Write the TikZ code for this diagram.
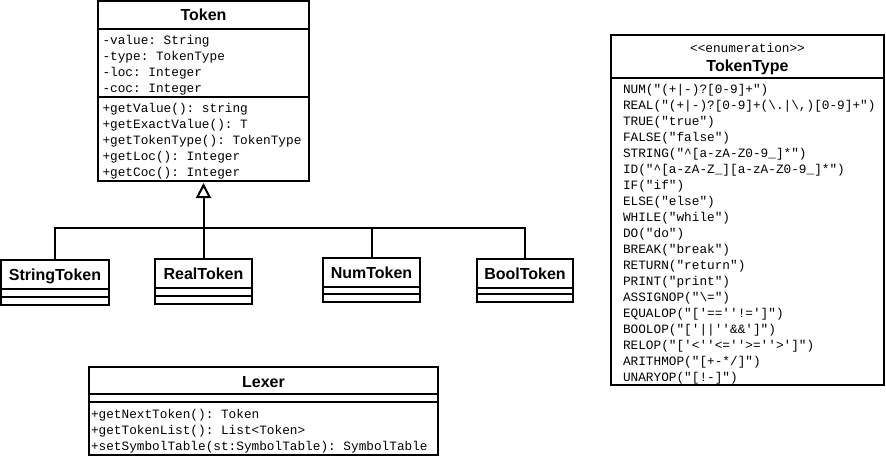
\documentclass[tikz,border=0pt]{standalone}
\usepackage{fontspec}
\setsansfont{Liberation Sans}
\setmonofont{Liberation Mono}
\usetikzlibrary{arrows.meta}

\begin{document}
\begin{tikzpicture}[x=1pt, y=-1pt, line width=2pt,
		classbox/.style={draw, anchor=north west, inner sep=0pt, outer sep=0pt},
		classname/.style={anchor=base, inner sep=0pt, font=\sffamily\bfseries\fontsize{16}{19}\selectfont},
		stereotype/.style={anchor=base, inner sep=0pt, font=\ttfamily\fontsize{12.75}{16}\selectfont},
		member/.style={anchor=base west, inner sep=0pt, font=\ttfamily\fontsize{12.75}{16}\selectfont},
		generalize/.style={-{Triangle[open, length=15pt, width=15pt]}, shorten >=2pt}]
				\useasboundingbox (0,0) rectangle (886,458);
				% Token
				\node[classbox, minimum width=211, minimum height=180] (token) at (98,1) {};
				\node[classname] (tokenname) at (203.5,20.5) {Token};
				\draw (98,29) -- (309,29);
				\draw (98,97) -- (309,97);
				\foreach \m [count=\i] in {{-value: String},{-type: TokenType},{-loc: Integer},{-coc: Integer}}
					\node[member] (tokenattr\i) at (101.5,28.5+16*\i) {\m};
				\foreach \m [count=\i] in {{+getValue(): string},{+getExactValue(): T},{+getTokenType(): TokenType},{+getLoc(): Integer},{+getCoc(): Integer}}
					\node[member] (tokenop\i) at (101.5,96.5+16*\i) {\m};
				
				% subclasses
				\foreach \nm/\lbl/\xa/\xb/\ya/\yb in {stringtok/StringToken/1/109/260/305, realtok/RealToken/155/252/259/304, numtok/NumToken/323/420/258/302, booltok/BoolToken/477/573/259/302}{
					\node[classbox, minimum width=\xb-\xa, minimum height=\yb-\ya] (\nm) at (\xa,\ya) {};
					\node[classname] (\nm name) at ({(\xa+\xb)/2},\ya+20.5) {\lbl};
					\draw (\xa,\ya+28.5) -- (\xb,\ya+28.5);
					\draw (\xa,\yb-8) -- (\xb,\yb-8);
				}
				
				% generalization
				\coordinate (bus) at (203.5,227.5);
				\draw[generalize] (bus) -- (token.south);
				\draw (stringtok.north) |- (booltok.north |- bus) -- (booltok.north);
				\draw (realtok.north) -- (bus);
				\draw (numtok.north) -- (numtok.north |- bus);
				
				% TokenType
				\node[classbox, minimum width=273, minimum height=350] (tokentype) at (611,35) {};
				\node[stereotype] (tokentypestereo) at (747.5,52) {<<enumeration>>};
				\node[classname] (tokentypename) at (747.5,71) {TokenType};
				\draw (611,78) -- (884,78);
				\foreach \m [count=\i] in {{NUM("(+|-)?[0-9]+")},
						{REAL("(+|-)?[0-9]+(\textbackslash.|\textbackslash,)[0-9]+")},
						{TRUE("true")},{FALSE("false")},
						{STRING("\textasciicircum[a-zA-Z0-9\_]*")},
						{ID("\textasciicircum[a-zA-Z\_][a-zA-Z0-9\_]*")},
						{IF("if")},{ELSE("else")},{WHILE("while")},{DO("do")},
						{BREAK("break")},{RETURN("return")},{PRINT("print")},
						{ASSIGNOP("\textbackslash=")},{EQUALOP("['==''!=']")},
						{BOOLOP("['||''\&\&']")},{RELOP("['<''<=''>=''>']")},
						{ARITHMOP("[+-*/]")},{UNARYOP("[!-]")}}
					\node[member] (tokentypeval\i) at (622,77.5+16*\i) {\m};
				
				% Lexer
				\node[classbox, minimum width=349, minimum height=88] (lexer) at (89,367) {};
				\node[classname] (lexername) at (263.5,387) {Lexer};
				\draw (89,394) -- (438,394);
				\draw (89,402) -- (438,402);
				\foreach \m [count=\i] in {{+getNextToken(): Token},{+getTokenList(): List<Token>},{+setSymbolTable(st:SymbolTable): SymbolTable}}
					\node[member] (lexerop\i) at (90,402.5+16*\i) {\m};
			\end{tikzpicture}
\end{document}
